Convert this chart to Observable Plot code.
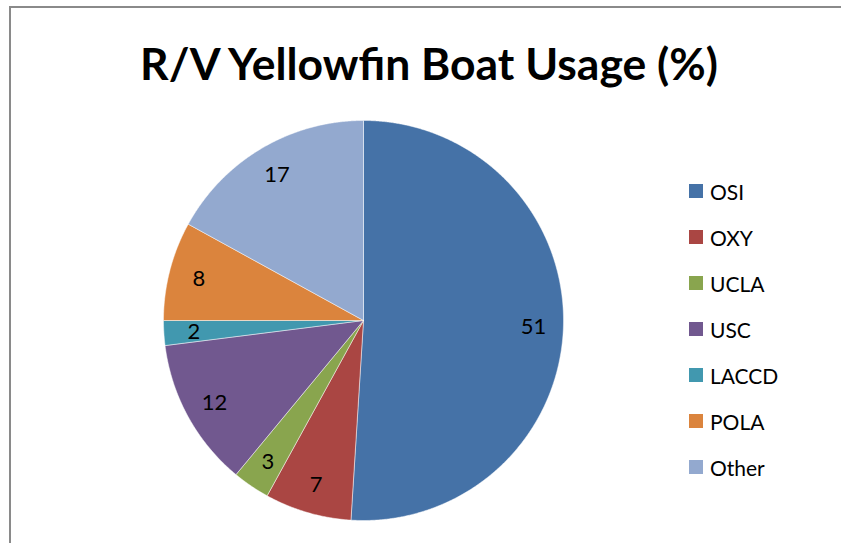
<!DOCTYPE html>
<html><head><meta charset="utf-8">
<script src="https://cdn.jsdelivr.net/npm/d3@7"></script>
<script src="https://cdn.jsdelivr.net/npm/@observablehq/plot@0.6"></script>
<style>
body{margin:0;background:#fff;}
#wrap{position:relative;width:841px;height:543px;overflow:hidden;background:#fff;font-family:Lato,"Open Sans",sans-serif;}
#frame{position:absolute;left:9px;top:6px;width:1000px;height:1000px;border-left:2px solid #8a8a8a;border-top:2px solid #8a8a8a;}
#title{position:absolute;left:0;width:858px;top:41px;text-align:center;font-weight:bold;font-size:44px;line-height:44px;white-space:nowrap;color:#000;}
#title span{display:inline-block;}
#plot{position:absolute;left:0;top:0;}
#legend{position:absolute;left:689px;top:184px;}
.row{position:absolute;left:0;height:14px;display:flex;align-items:center;white-space:nowrap;font-size:21px;color:#000;}
.sw{width:14px;height:14px;margin-right:7px;flex:none;}
</style>
</head><body>
<div id="wrap">
  <div id="frame"></div>
  <div id="title"><span id="tt">R/V Yellowfin Boat Usage (%)</span></div>
  <div id="plot"></div>
  <div id="legend"></div>
</div>
<script>
const titleText = "R/V Yellowfin Boat Usage (%)";
const names = ["OSI", "OXY", "UCLA", "USC", "LACCD", "POLA", "Other"];
const values = [51, 7, 3, 12, 2, 8, 17];
const colors = ["#4572A7", "#AA4643", "#89A54E", "#71588F", "#4198AF", "#DB843D", "#93A9CF"];

// fit title width
const tt = document.getElementById("tt");
tt.textContent = titleText;
const w0 = tt.getBoundingClientRect().width;
const fs = 44 * 578 / w0;
document.getElementById("title").style.fontSize = fs + "px";

const arcs = d3.pie().sort(null).value(d => d)(values);
const pts = [];
arcs.forEach((a, i) => {
  pts.push({name: names[i], x: 0, y: 0});
  const n = Math.max(2, Math.ceil((a.endAngle - a.startAngle) / 0.005));
  for (let k = 0; k <= n; k++) {
    const t = a.startAngle + (a.endAngle - a.startAngle) * k / n;
    pts.push({name: names[i], x: Math.sin(t), y: Math.cos(t)});
  }
  pts.push({name: names[i], x: 0, y: 0});
});
const labelR = 0.85;
const labels = arcs.map((a, i) => {
  const m = (a.startAngle + a.endAngle) / 2;
  return {name: names[i], v: String(values[i]), x: labelR * Math.sin(m), y: labelR * Math.cos(m)};
});

const chart = Plot.plot({
  width: 841, height: 543,
  marginLeft: 163, marginRight: 278, marginTop: 120, marginBottom: 23,
  x: {domain: [-1, 1], axis: null},
  y: {domain: [-1, 1], axis: null},
  color: {domain: names, range: colors},
  style: {background: "transparent", fontFamily: "Lato, sans-serif"},
  marks: [
    Plot.line(pts, {x: "x", y: "y", z: "name", fill: "name", stroke: "white", strokeWidth: 0.6, strokeOpacity: 0.8, curve: "linear"}),
    Plot.text(labels, {x: "x", y: "y", text: "v", fontSize: 22, fill: "black", dy: 1})
  ]
});
document.getElementById("plot").appendChild(chart);

const leg = document.getElementById("legend");
names.forEach((n, i) => {
  const r = document.createElement("div");
  r.className = "row";
  r.style.top = (i * 46) + "px";
  const s = document.createElement("div");
  s.className = "sw";
  s.style.background = colors[i];
  const t = document.createElement("span");
  t.textContent = n;
  r.appendChild(s); r.appendChild(t);
  leg.appendChild(r);
});
</script>
</body></html>
